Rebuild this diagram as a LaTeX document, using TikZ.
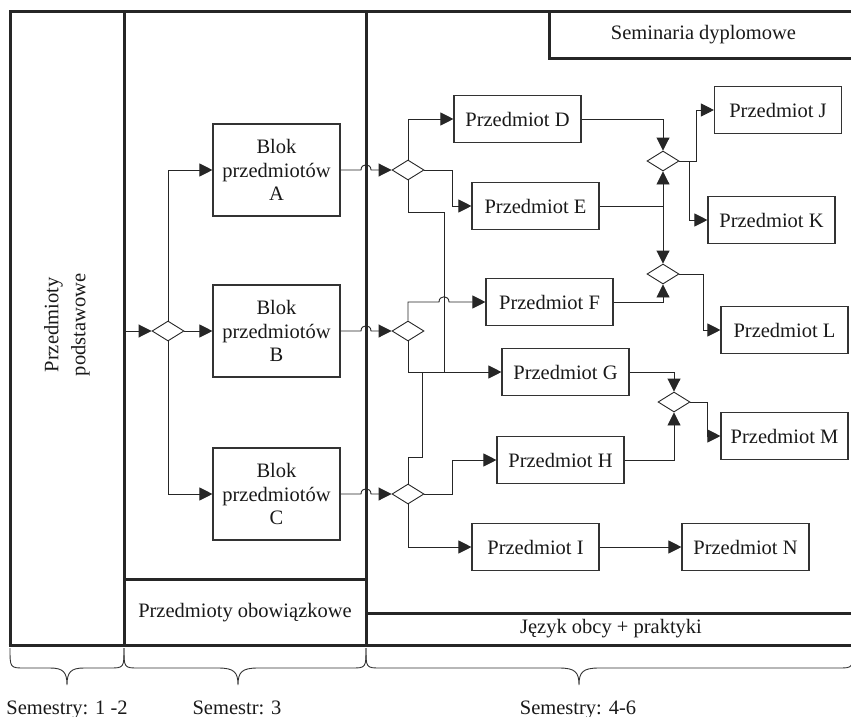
\documentclass[tikz,border=0pt]{standalone}
\usepackage{fontspec}
\setmainfont{Liberation Serif}
\usetikzlibrary{shapes.geometric,arrows.meta,calc}
\tikzset{
  txt/.style={font=\fontsize{20.5}{23.5}\selectfont, text=black!90, inner sep=0pt},
  box/.style={txt, draw=black!80, line width=1.1pt, minimum width=127pt, minimum height=47pt, align=center},
  blok/.style={box, minimum height=92pt},
  dia/.style={draw=black!85, diamond, aspect=1.6, inner sep=0pt, minimum width=32pt, minimum height=20pt, line width=0.9pt},
  conn/.style={draw=black!85, line width=0.9pt},
  arr/.style={conn, -{Triangle[length=13pt,width=13pt]}},
  frame/.style={draw=black!85, line width=3pt},
  bracestyle/.style={draw=black!80, line width=0.9pt},
}
\begin{document}
\begin{tikzpicture}[x=1pt,y=-1pt]
\useasboundingbox (0,0) rectangle (851,717);
% frame
\draw[frame] (10,645) -- (10,12) -- (853,12);
\draw[frame] (8.5,645) -- (853,645);
\draw[frame] (124,12) -- (124,645);
\coordinate (v2) at (366,12);
\draw[frame] (v2) -- (366,645);
\draw[frame] (549,12) -- (549,59) -- (853,59);
\draw[frame] (124,579) -- (366,579);
\draw[frame] (366,613) -- (853,613);
% frame labels
\node[txt] (sem) at (703.5,35) {Seminaria dyplomowe};
\node[txt] (obo) at (245,613) {Przedmioty obowiązkowe};
\node[txt] (jez) at (611,629) {Język obcy + praktyki};
\node[txt, rotate=90, align=center, font=\fontsize{20.5}{27}\selectfont] (pod) at (67,325) {Przedmioty\\podstawowe};
% braces
\draw[bracestyle] (10,648) .. controls (10,668) and (10,668) .. (25,668) -- (50,668) .. controls (63,668) and (67,672) .. (67,685)
  .. controls (67,672) and (71,668) .. (84,668) -- (109,668) .. controls (124,668) and (124,668) .. (124,648);
\draw[bracestyle] (124,648) .. controls (124,668) and (124,668) .. (139,668) -- (218,668) .. controls (234,668) and (238,672) .. (238,685)
  .. controls (238,672) and (242,668) .. (258,668) -- (351,668) .. controls (366,668) and (366,668) .. (366,648);
\draw[bracestyle] (366,648) .. controls (366,668) and (366,668) .. (381,668) -- (559,668) .. controls (575,668) and (579,672) .. (579,685)
  .. controls (579,672) and (583,668) .. (599,668) -- (838,668) .. controls (853,668) and (853,668) .. (853,648);
\node[txt, anchor=base] (s1) at (67,714) {Semestry: 1 -2};
\node[txt, anchor=base] (s2) at (237,714) {Semestr: 3};
\node[txt, anchor=base] (s3) at (578,714) {Semestry: 4-6};
% blocks
\node[blok] (A) at (276.5,170) {Blok\\przedmiotów\\A};
\node[blok] (B) at (276.5,331) {Blok\\przedmiotów\\B};
\node[blok] (C) at (276.5,494) {Blok\\przedmiotów\\C};
\node[dia] (d0) at (168,331) {};
\coordinate (f0) at (124,331);
\draw[arr] (f0) -- (d0.west);
\draw[arr] (d0.east) -- (B.west);
\draw[arr] (d0.north) |- (A.west);
\draw[arr] (d0.south) |- (C.west);
% diamonds after blocks
\node[dia] (dA) at (408,170) {};
\node[dia] (dB) at (408,331) {};
\node[dia] (dC) at (408,494) {};
\draw[arr] (A.east) -- ($(v2 |- A.east)+(-5,0)$) .. controls +(0,-7) and +(0,-7) .. ($(v2 |- A.east)+(5,0)$) -- (dA.west);
\draw[arr] (B.east) -- ($(v2 |- B.east)+(-5,0)$) .. controls +(0,-7) and +(0,-7) .. ($(v2 |- B.east)+(5,0)$) -- (dB.west);
\draw[arr] (C.east) -- ($(v2 |- C.east)+(-5,0)$) .. controls +(0,-7) and +(0,-7) .. ($(v2 |- C.east)+(5,0)$) -- (dC.west);
% subjects
\node[box] (D) at (517.5,119) {Przedmiot D};
\node[box] (E) at (535.5,206) {Przedmiot E};
\node[box] (F) at (549.5,302) {Przedmiot F};
\node[box] (G) at (565.5,372) {Przedmiot G};
\node[box] (H) at (560.5,460) {Przedmiot H};
\node[box] (I) at (535.5,547) {Przedmiot I};
\node[box] (J) at (778,110) {Przedmiot J};
\node[box] (K) at (771.5,220) {Przedmiot K};
\node[box] (L) at (784.5,330) {Przedmiot L};
\node[box] (M) at (784.5,436) {Przedmiot M};
\node[box] (N) at (745.5,547) {Przedmiot N};
\node[dia] (d1) at (663,161) {};
\node[dia] (d2) at (663,274) {};
\node[dia] (dM) at (674,402) {};
% from dA
\draw[arr] (dA.north) |- (D.west);
\coordinate (wE) at (452,170);
\draw[arr] (dA.east) -- (wE) |- (E.west);
\coordinate (wA1) at (408,212);
\coordinate (wA2) at (444,212);
\coordinate (jG) at (444,372);
\draw[conn] (dA.south) -- (wA1) -- (wA2) -- (jG);
% from dB
\coordinate (wB) at (408,302);
\draw[arr] (dB.north) -- (wB) -- ($(jG |- wB)+(-5,0)$) .. controls +(0,-7) and +(0,-7) .. ($(jG |- wB)+(5,0)$) -- (F.west);
\draw[arr] (dB.south) |- (G.west);
% from dC
\coordinate (wC1) at (408,457);
\coordinate (wC2) at (422,457);
\coordinate (wC3) at (422,372);
\draw[conn] (dC.north) -- (wC1) -- (wC2) -- (wC3);
\coordinate (wH) at (452,494);
\draw[arr] (dC.east) -- (wH) |- (H.west);
\draw[arr] (dC.south) |- (I.west);
% right side
\draw[arr] (D.east) -| (d1.north);
\coordinate (jE) at (663,206);
\draw[conn] (E.east) -- (jE);
\draw[arr] (jE) -- (d1.south);
\draw[arr] (jE) -- (d2.north);
\draw[arr] (F.east) -| (d2.south);
\coordinate (wJ) at (696,161);
\draw[arr] (d1.east) -- (wJ) |- (J.west);
\coordinate (wK) at (689,161);
\draw[arr] (wK) |- (K.west);
\coordinate (wL) at (703,274);
\draw[arr] (d2.east) -- (wL) |- (L.west);
\draw[arr] (G.east) -| (dM.north);
\draw[arr] (H.east) -| (dM.south);
\coordinate (wM) at (707,402);
\draw[arr] (dM.east) -- (wM) |- (M.west);
\draw[arr] (I.east) -- (N.west);
\end{tikzpicture}
\end{document}
